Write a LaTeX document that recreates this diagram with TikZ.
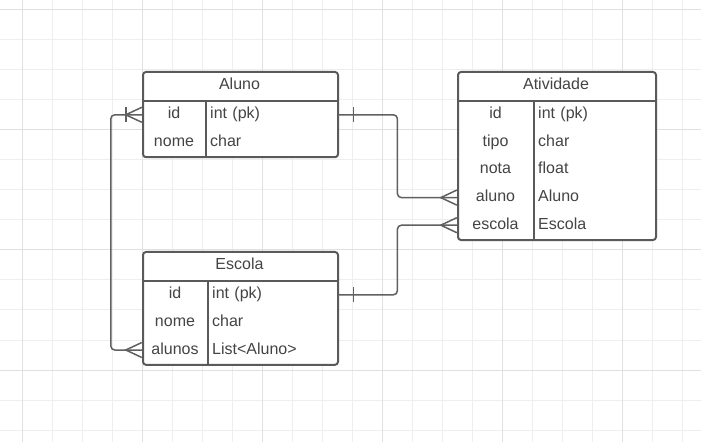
\documentclass[tikz,border=0pt]{standalone}
\usepackage{fontspec}
\setmainfont{Liberation Sans}
\definecolor{gridlight}{HTML}{EEEEEE}
\definecolor{griddark}{HTML}{E0E0E0}
\definecolor{boxgray}{HTML}{5A5A5A}
\definecolor{linegray}{HTML}{606060}
\definecolor{textgray}{HTML}{444444}
\begin{document}
\begin{tikzpicture}[x=1bp,y=-1bp,
        gridminor/.style={draw=gridlight,line width=1bp},
        gridmajor/.style={draw=griddark,line width=1bp},
        table/.style={draw=boxgray,fill=white,line width=2bp,rounded corners=3bp,inner sep=0pt,anchor=north west},
        sep/.style={draw=boxgray,line width=2bp},
        txt/.style={text=textgray,font=\fontsize{16bp}{19bp}\selectfont,text height=12bp,text depth=4bp,inner sep=0pt},
        title/.style={txt},
        key/.style={txt,minimum height=27.6bp},
        val/.style={txt,anchor=west,align=left,inner xsep=4bp,minimum height=27.6bp},
        rel/.style={draw=linegray,line width=1.5bp},
        many/.pic={\draw[rel] (0,-7.5) -- (-16,0) -- (0,7.5);},
        bar/.pic={\draw[rel] (#1,-7.5) -- (#1,7.5);},
        ]
    \useasboundingbox (0,0) rectangle (701,442);
    \fill[white] (0,0) rectangle (701,442);
    % grid
    \foreach \x in {22,52,...,682} \draw[gridminor] (\x,0) -- (\x,442);
    \foreach \y in {10,40,...,430} \draw[gridminor] (0,\y) -- (701,\y);
    \foreach \x in {22,142,...,622} \draw[gridmajor] (\x,0) -- (\x,442);
    \foreach \y in {10,130,...,370} \draw[gridmajor] (0,\y) -- (701,\y);

    % Aluno
    \node[table,minimum width=195bp,minimum height=85.2bp] (aluno) at (142,71) {};
    \draw[sep] (142,101) -- (337,101);
    \draw[sep] (206,101) -- (206,156.2);
    \node[title] (aluno-t) at (239.5,86) {Aluno};
    \foreach \k/\v [count=\i] in {id/int (pk),nome/char} {
        \node[key,minimum width=64bp] (aluno-\k) at (174,{101+27.6*\i-13.8}) {\k};
        \node[val,text width=123bp] (aluno-\k-v) at (206,{101+27.6*\i-13.8}) {\v};
    }

    % Escola
    \node[table,minimum width=195bp,minimum height=112.8bp] (escola) at (142,251) {};
    \draw[sep] (142,281) -- (337,281);
    \draw[sep] (208,281) -- (208,363.8);
    \node[title] (escola-t) at (239.5,266) {Escola};
    \foreach \k/\v [count=\i] in {id/int (pk),nome/char,alunos/List<Aluno>} {
        \node[key,minimum width=66bp] (escola-\k) at (175,{281+27.6*\i-13.8}) {\k};
        \node[val,text width=121bp] (escola-\k-v) at (208,{281+27.6*\i-13.8}) {\v};
    }

    % Atividade
    \node[table,minimum width=198bp,minimum height=168bp] (ativ) at (457,71) {};
    \draw[sep] (457,101) -- (655,101);
    \draw[sep] (534,101) -- (534,239);
    \node[title] (ativ-t) at (556,86) {Atividade};
    \foreach \k/\v [count=\i] in {id/int (pk),tipo/char,nota/float,aluno/Aluno,escola/Escola} {
        \node[key,minimum width=77bp] (ativ-\k) at (495.5,{101+27.6*\i-13.8}) {\k};
        \node[val,text width=113bp] (ativ-\k-v) at (534,{101+27.6*\i-13.8}) {\v};
    }

    % relations
    \draw[rel,rounded corners=4bp] (aluno-id-v.east) -- ++(60,0) |- (ativ-aluno.west);
    \draw[rel,rounded corners=4bp] (escola-id-v.east) -- ++(60,0) |- (ativ-escola.west);
    \draw[rel,rounded corners=4bp] (aluno-id.west) -- ++(-31,0) |- (escola-alunos.west);
    \pic at (aluno-id-v.east) {bar=16};
    \pic at (escola-id-v.east) {bar=16};
    \pic at (aluno-id.west) {bar=-16};
    \pic at (aluno-id.west) {many};
    \pic at (escola-alunos.west) {many};
    \pic at (ativ-aluno.west) {many};
    \pic at (ativ-escola.west) {many};
\end{tikzpicture}
\end{document}
